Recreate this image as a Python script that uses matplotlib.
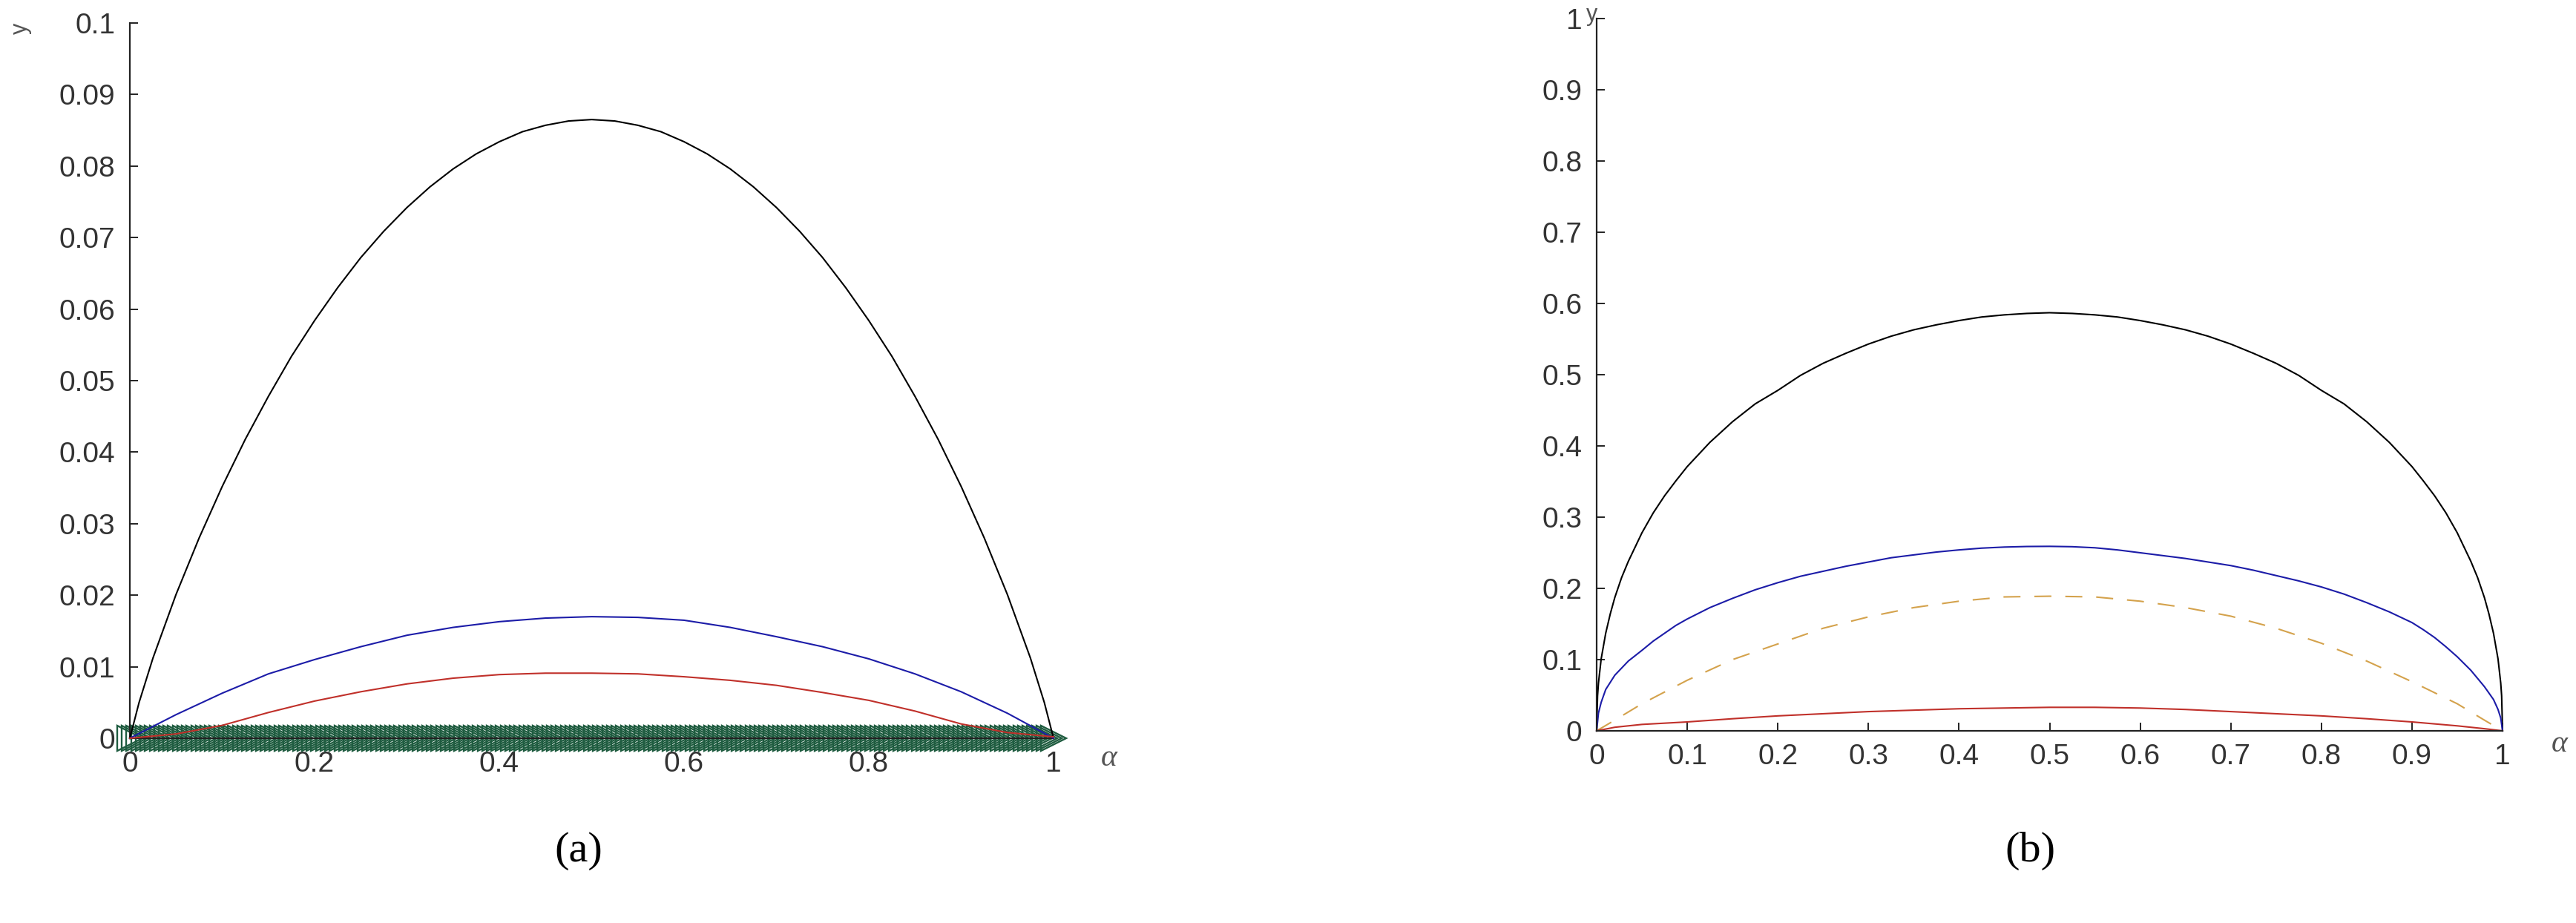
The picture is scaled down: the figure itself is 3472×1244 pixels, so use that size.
import matplotlib
matplotlib.use('Agg')
import matplotlib.pyplot as plt
import numpy as np

# ---------------- data: panel (a) ----------------
alpha_a_black = [0.0, 0.01, 0.025, 0.05, 0.075, 0.10, 0.125, 0.15, 0.175, 0.20, 0.225, 0.25,
                 0.275, 0.30, 0.325, 0.35, 0.375, 0.40, 0.425, 0.45, 0.475, 0.50,
                 0.525, 0.55, 0.575, 0.60, 0.625, 0.65, 0.675, 0.70, 0.725, 0.75,
                 0.775, 0.80, 0.825, 0.85, 0.875, 0.90, 0.925, 0.95, 0.975, 0.99, 1.0]
black_a = [0.0, 0.0050, 0.0112, 0.0201, 0.0280, 0.0352, 0.0418, 0.0478, 0.0534, 0.0584, 0.0630, 0.0672,
           0.0709, 0.0742, 0.0771, 0.0796, 0.0817, 0.0834, 0.0848, 0.0857, 0.0863, 0.0865,
           0.0863, 0.0857, 0.0848, 0.0834, 0.0817, 0.0796, 0.0771, 0.0742, 0.0709, 0.0672,
           0.0630, 0.0584, 0.0534, 0.0478, 0.0418, 0.0352, 0.0280, 0.0201, 0.0112, 0.0050, 0.0]
alpha_a = [0.00, 0.05, 0.10, 0.15, 0.20, 0.25, 0.30, 0.35, 0.40, 0.45, 0.50,
           0.55, 0.60, 0.65, 0.70, 0.75, 0.80, 0.85, 0.90, 0.95, 1.00]
blue_a = [0.0, 0.0033, 0.0063, 0.0090, 0.0110, 0.0128, 0.0144, 0.0155, 0.0163, 0.0168, 0.0170,
          0.0169, 0.0165, 0.0155, 0.0142, 0.0128, 0.0111, 0.0090, 0.0065, 0.0035, 0.0]
red_a = [0.0, 0.0006, 0.0018, 0.0036, 0.0052, 0.0065, 0.0076, 0.0084, 0.0089, 0.0091, 0.0091,
         0.0090, 0.0086, 0.0081, 0.0074, 0.0064, 0.0053, 0.0038, 0.0020, 0.0008, 0.0002]
marker_alpha_a = list(np.linspace(0.0, 1.0, 201))
marker_y_a = [0.0] * len(marker_alpha_a)

# ---------------- data: panel (b) ----------------
alpha_b_black = [0.0, 0.001, 0.002, 0.005, 0.01, 0.015, 0.02, 0.0275, 0.035, 0.05, 0.0625, 0.075,
                 0.0875, 0.10, 0.125, 0.15, 0.175, 0.20, 0.225, 0.25, 0.275, 0.30, 0.325, 0.35,
                 0.375, 0.40, 0.425, 0.45, 0.475, 0.50, 0.525, 0.55, 0.575, 0.60, 0.625, 0.65,
                 0.675, 0.70, 0.725, 0.75, 0.775, 0.80, 0.825, 0.85, 0.875, 0.90, 0.9125, 0.925,
                 0.9375, 0.95, 0.965, 0.9725, 0.98, 0.985, 0.99, 0.995, 0.998, 0.999, 1.0]
black_b = [0.0, 0.049, 0.067, 0.101, 0.137, 0.164, 0.187, 0.215, 0.238, 0.278, 0.306, 0.330,
           0.351, 0.371, 0.405, 0.434, 0.459, 0.478, 0.499, 0.516, 0.530, 0.543, 0.554, 0.563,
           0.570, 0.576, 0.581, 0.584, 0.586, 0.587, 0.586, 0.584, 0.581, 0.576, 0.570, 0.563,
           0.554, 0.543, 0.530, 0.516, 0.499, 0.478, 0.459, 0.434, 0.405, 0.371, 0.351, 0.330,
           0.306, 0.278, 0.238, 0.215, 0.187, 0.164, 0.137, 0.101, 0.067, 0.049, 0.0]
alpha_b_blue = [0.0, 0.002, 0.005, 0.01, 0.02, 0.035, 0.05, 0.0625, 0.075, 0.0875, 0.10, 0.125,
                0.15, 0.175, 0.20, 0.225, 0.25, 0.275, 0.30, 0.325, 0.35, 0.375, 0.40, 0.425,
                0.45, 0.475, 0.50, 0.525, 0.55, 0.575, 0.60, 0.625, 0.65, 0.675, 0.70, 0.725,
                0.75, 0.775, 0.80, 0.825, 0.85, 0.875, 0.90, 0.9125, 0.925, 0.9375, 0.95, 0.965,
                0.98, 0.99, 0.995, 0.998, 1.0]
blue_b = [0.0, 0.025, 0.040, 0.058, 0.078, 0.098, 0.113, 0.126, 0.137, 0.148, 0.157, 0.173,
          0.186, 0.198, 0.208, 0.217, 0.224, 0.231, 0.237, 0.243, 0.247, 0.251, 0.254, 0.2565,
          0.258, 0.2588, 0.259, 0.2585, 0.257, 0.254, 0.250, 0.246, 0.242, 0.237, 0.232, 0.2255,
          0.218, 0.2105, 0.202, 0.192, 0.180, 0.167, 0.152, 0.142, 0.131, 0.118, 0.104, 0.085,
          0.062, 0.044, 0.030, 0.018, 0.0]
alpha_b2 = [0.00, 0.02, 0.05, 0.10, 0.15, 0.20, 0.25, 0.30, 0.35, 0.40, 0.45, 0.50,
            0.55, 0.60, 0.65, 0.70, 0.75, 0.80, 0.85, 0.90, 0.95, 0.98, 1.00]
orange_b = [0.0, 0.015, 0.038, 0.071, 0.100, 0.122, 0.144, 0.160, 0.173, 0.182, 0.188, 0.189,
            0.188, 0.182, 0.173, 0.161, 0.144, 0.123, 0.098, 0.069, 0.038, 0.015, 0.0]
red_b = [0.0, 0.005, 0.009, 0.0125, 0.017, 0.021, 0.024, 0.027, 0.029, 0.031, 0.032, 0.033,
         0.033, 0.032, 0.030, 0.027, 0.024, 0.021, 0.017, 0.0125, 0.007, 0.003, 0.0]

xticks_a = [0, 0.2, 0.4, 0.6, 0.8, 1]
xticklabels_a = ['0', '0.2', '0.4', '0.6', '0.8', '1']
yticks_a = [0, 0.01, 0.02, 0.03, 0.04, 0.05, 0.06, 0.07, 0.08, 0.09, 0.1]
yticklabels_a = ['0', '0.01', '0.02', '0.03', '0.04', '0.05', '0.06', '0.07', '0.08', '0.09', '0.1']
xticks_b = [0, 0.1, 0.2, 0.3, 0.4, 0.5, 0.6, 0.7, 0.8, 0.9, 1]
xticklabels_b = ['0', '0.1', '0.2', '0.3', '0.4', '0.5', '0.6', '0.7', '0.8', '0.9', '1']
yticks_b = [0, 0.1, 0.2, 0.3, 0.4, 0.5, 0.6, 0.7, 0.8, 0.9, 1]
yticklabels_b = ['0', '0.1', '0.2', '0.3', '0.4', '0.5', '0.6', '0.7', '0.8', '0.9', '1']

W, H = 3473, 1244
fig = plt.figure(figsize=(W / 100, H / 100), dpi=100)

TICK_COLOR = '#333333'
SANS = 'Liberation Sans'
SERIF = 'Liberation Serif'


def style_axes(ax):
    for s in ['top', 'right']:
        ax.spines[s].set_visible(False)
    for s in ['left', 'bottom']:
        ax.spines[s].set_linewidth(1.6)
        ax.spines[s].set_color('#222222')
    ax.tick_params(direction='in', length=8, width=1.4, colors='#222222',
                   labelcolor=TICK_COLOR, labelsize=28)
    ax.tick_params(axis='y', pad=14)
    ax.tick_params(axis='x', pad=12)
    for lab in ax.get_xticklabels() + ax.get_yticklabels():
        lab.set_fontfamily(SANS)


# ---------------- panel (a) ----------------
axa = fig.add_axes([175 / W, 1 - 995 / H, 1245 / W, 964 / H])
axa.plot(marker_alpha_a, marker_y_a, linestyle='none', marker='>', markersize=24,
         markerfacecolor='none', markeredgecolor='#1f5c40', markeredgewidth=1.7,
         clip_on=False, zorder=2)
axa.plot(alpha_a_black, black_a, color='black', lw=1.5, zorder=3, clip_on=False)
axa.plot(alpha_a, blue_a, color='#1c1ca8', lw=1.5, zorder=3, clip_on=False)
axa.plot(alpha_a, red_a, color='#c0302a', lw=1.5, zorder=3, clip_on=False)
axa.set_xlim(0, 1)
axa.set_ylim(0, 0.1)
axa.set_xticks(xticks_a)
axa.set_xticklabels(xticklabels_a)
axa.set_yticks(yticks_a)
axa.set_yticklabels(yticklabels_a)
style_axes(axa)
axa.tick_params(axis='x', length=0)

# ---------------- panel (b) ----------------
axb = fig.add_axes([2152 / W, 1 - 985 / H, 1221 / W, 960 / H])
axb.plot(alpha_b_black, black_b, color='black', lw=1.5, clip_on=False)
axb.plot(alpha_b_blue, blue_b, color='#1c1ca8', lw=1.5, clip_on=False)
axb.plot(alpha_b2, orange_b, color='#d4a24c', lw=1.5, linestyle=(0, (11, 9)), clip_on=False)
axb.plot(alpha_b2, red_b, color='#c0302a', lw=1.5, clip_on=False)
axb.set_xlim(0, 1)
axb.set_ylim(0, 1)
axb.set_xticks(xticks_b)
axb.set_xticklabels(xticklabels_b)
axb.set_yticks(yticks_b)
axb.set_yticklabels(yticklabels_b)
style_axes(axb)

# ---------------- labels ----------------
fig.text(28 / W, 1 - 38 / H, 'y', rotation=90, fontsize=22, color='#555555',
         family=SANS, ha='center', va='center')
fig.text(2146 / W, 1 - 20 / H, 'y', fontsize=22, color='#555555',
         family=SANS, ha='center', va='center')
fig.text(1495 / W, 1 - 1022 / H, 'α', fontsize=30, color='#555555',
         family=SERIF, style='italic', ha='center', va='center')
fig.text(3450 / W, 1 - 1003 / H, 'α', fontsize=30, color='#555555',
         family=SERIF, style='italic', ha='center', va='center')
fig.text(780 / W, 1 - 1147 / H, '(a)', fontsize=42, color='black',
         family=SERIF, ha='center', va='center')
fig.text(2736 / W, 1 - 1147 / H, '(b)', fontsize=42, color='black',
         family=SERIF, ha='center', va='center')

fig.savefig('out.png', dpi=100, facecolor='white')
